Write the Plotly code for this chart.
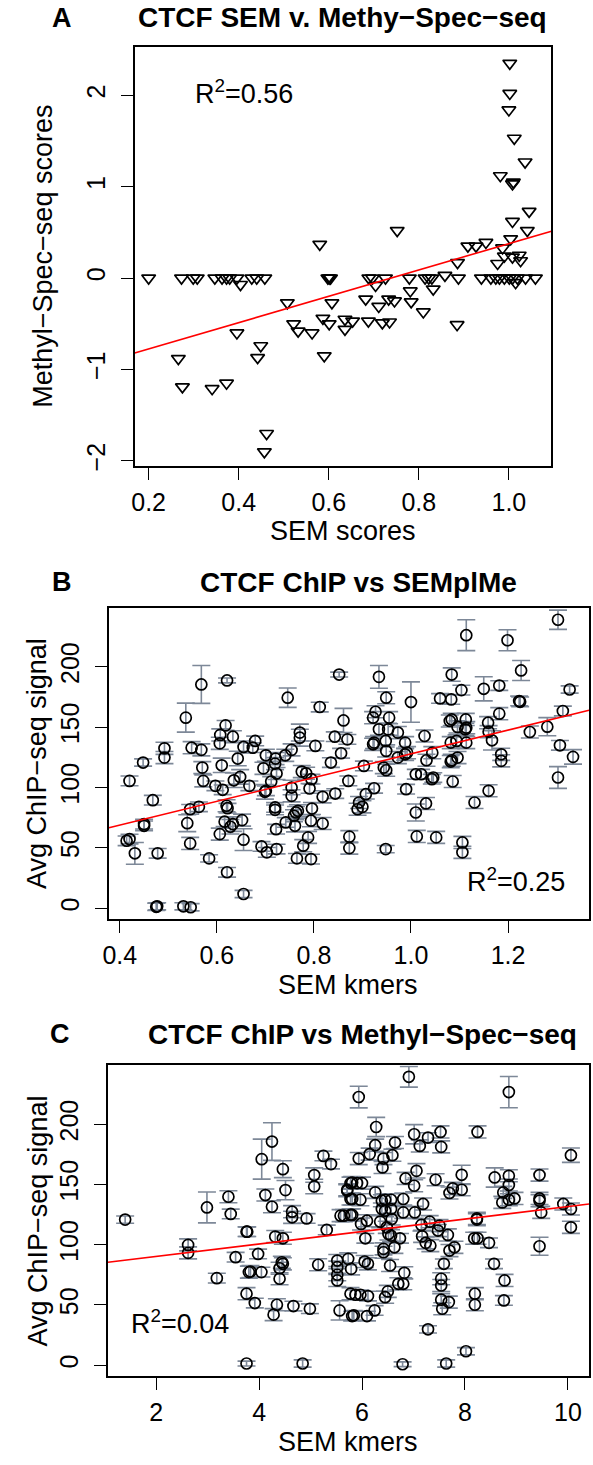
import plotly.graph_objects as go

# ---------------- Panel A data ----------------
a_x = [0.200, 0.273, 0.299, 0.308, 0.347, 0.363, 0.373, 0.380, 0.396, 0.429, 0.440, 0.458,
       0.598, 0.601, 0.604, 0.689, 0.697, 0.726, 0.779, 0.814, 0.822, 0.829, 0.888,
       0.939, 0.960, 0.971, 0.979, 0.990, 1.001, 1.008, 1.019, 1.037, 1.059,
       0.404, 0.704, 0.832, 1.015, 0.858,
       0.580, 0.752,
       1.002, 1.002, 1.000, 1.012, 1.036, 0.981, 1.008, 1.010, 1.045, 1.008, 1.041,
       0.909, 0.927, 0.949, 1.004, 0.986, 0.886, 0.975, 0.990, 1.008, 1.023, 1.026,
       0.508, 0.607, 0.522, 0.532, 0.563, 0.587, 0.601, 0.636, 0.653, 0.636, 0.590,
       0.396, 0.266, 0.275, 0.341, 0.373, 0.449, 0.442, 0.462, 0.457,
       0.682, 0.711, 0.733, 0.746, 0.781, 0.783, 0.810, 0.688, 0.719, 0.735, 0.885]
a_y = [0.0, 0.0, 0.0, 0.0, 0.0, 0.0, 0.0, 0.0, 0.0, 0.0, 0.0, 0.0,
       0.0, 0.0, 0.0, 0.0, 0.0, 0.0, 0.0, 0.0, 0.0, 0.0, 0.0,
       0.0, 0.0, 0.0, 0.0, 0.0, 0.0, 0.0, 0.0, 0.0, 0.0,
       -0.07, -0.08, -0.12, -0.05, 0.03,
       0.37, 0.52,
       2.35, 2.02, 1.84, 1.53, 1.27, 1.12, 1.03, 1.05, 0.73, 0.62, 0.52,
       0.35, 0.35, 0.39, 0.43, 0.33, 0.17, 0.16, 0.24, 0.23, 0.25, 0.19,
       -0.27, -0.27, -0.50, -0.58, -0.60, -0.44, -0.50, -0.45, -0.47, -0.56, -0.85,
       -0.60, -0.88, -1.19, -1.21, -1.15, -0.74, -0.87, -1.70, -1.90,
       -0.23, -0.31, -0.23, -0.25, -0.14, -0.26, -0.37, -0.47, -0.49, -0.48, -0.51]
a_fit = [-1.063, 1.44]          # intercept, slope
a_r2 = "0.56"

# ---------------- Panel B data ----------------
b_x = [0.568, 0.621, 0.536, 0.746, 0.812, 0.852, 0.861, 0.843, 0.869, 0.856, 0.835, 0.871,
       0.492, 0.492, 0.448, 0.420, 0.548, 0.568, 0.618, 0.607, 0.633, 0.606, 0.655, 0.674,
       0.679, 0.643, 0.610, 0.570, 0.572, 0.635, 0.648, 0.597, 0.612, 0.667, 0.701, 0.721,
       0.720, 0.723, 0.741, 0.754, 0.696, 0.712, 0.701, 0.754, 0.771, 0.771, 0.803, 0.775,
       0.784, 0.795, 0.791,
       0.468, 0.450, 0.450, 0.414, 0.420, 0.431, 0.478, 0.477, 0.475, 0.531, 0.546, 0.539,
       0.545, 0.563, 0.545, 0.584, 0.606, 0.621, 0.616, 0.620, 0.622, 0.628, 0.633, 0.652,
       0.655, 0.655, 0.692, 0.703, 0.723, 0.699, 0.720, 0.720, 0.722, 0.742, 0.754, 0.759,
       0.763, 0.767, 0.761, 0.765, 0.778, 0.788, 0.796, 0.794, 0.794, 0.818, 0.818, 0.844,
       0.873, 0.873,
       1.303, 1.114, 1.199, 1.227, 0.934, 1.084, 1.104, 1.150, 1.182, 1.327, 1.223, 1.225,
       0.949, 1.000, 1.060, 1.083, 0.927, 0.922, 0.955, 0.934, 0.953, 0.973, 0.924, 0.922,
       0.948, 0.949, 0.988, 0.988, 0.992, 0.973, 1.028, 1.044, 1.032, 0.944, 0.949, 0.903,
       1.084, 1.080, 1.096, 1.113, 1.114, 1.112, 1.094, 1.114, 1.082, 1.096, 1.084, 1.082,
       1.086, 1.159, 1.160, 1.167, 1.182, 1.186, 1.186, 1.245, 1.281, 1.313, 1.307, 1.334,
       1.303, 1.160, 1.010, 1.021, 1.043, 1.046, 0.990, 0.924, 0.907,
       0.893, 0.890, 0.900, 1.010, 1.031, 1.131, 0.948, 1.012, 1.052, 1.106, 1.106]
b_y = [185.4, 188.7, 157.9, 174.4, 166.7, 193.6, 155.6, 142.1, 139.9, 128.4, 120.7, 105.5,
       132.5, 124.8, 120.7, 105.5, 133.0, 131.2, 151.5, 143.6, 142.1, 136.6, 133.6, 133.0,
       138.6, 124.0, 118.4, 116.5, 105.5, 106.0, 108.8, 101.4, 98.1, 101.4, 126.7, 124.0,
       119.8, 111.6, 126.7, 131.2, 115.9, 105.0, 97.3, 100.0, 145.5, 141.3, 134.5, 113.2,
       111.8, 106.9, 99.2,
       89.5, 69.7, 68.3, 55.9, 57.3, 45.5, 45.5, 1.6, 1.2, 1.6, 0.8, 70.5,
       82.0, 84.0, 53.7, 41.3, 61.4, 29.8, 71.7, 84.9, 82.9, 67.5, 69.7, 73.0,
       56.8, 11.8, 51.2, 46.3, 49.0, 96.4, 83.5, 81.5, 65.5, 71.1, 93.1, 76.6,
       79.3, 80.7, 68.3, 41.3, 51.8, 58.7, 82.6, 72.5, 40.7, 92.3, 70.2, 95.0,
       59.3, 49.8,
       239.0, 226.2, 222.0, 197.0, 191.7, 193.6, 180.7, 181.8, 184.5, 181.2, 171.7, 171.0,
       174.4, 170.8, 173.8, 173.0, 162.8, 157.9, 157.9, 148.2, 148.2, 145.5, 137.2, 135.8,
       138.6, 130.3, 137.2, 127.5, 128.9, 124.8, 142.7, 128.9, 122.6, 116.5, 114.3, 117.9,
       156.4, 155.1, 150.2, 156.4, 149.6, 148.2, 138.6, 137.2, 137.2, 124.8, 122.6, 121.5,
       105.0, 153.7, 146.3, 139.1, 161.2, 127.5, 122.1, 146.0, 150.4, 163.4, 135.0, 125.4,
       108.3, 97.3, 111.0, 111.0, 106.9, 108.3, 98.6, 99.4, 94.5,
       87.6, 82.0, 84.0, 79.3, 86.8, 87.6, 49.0, 59.5, 58.7, 54.5, 46.3]
b_err = [15.7, 2, 12, 8, 4, 2, 10, 4, 4, 4, 4, 4,
         5, 5, 3, 4, 5, 5, 4, 5, 5, 5, 5, 4,
         4, 6, 6, 5, 5, 6, 6, 4, 4, 4, 5, 5,
         5, 5, 5, 5, 5, 4, 4, 6, 7, 7, 4, 5,
         5, 4, 4,
         4, 4, 4, 4, 4, 9, 4, 3, 3, 3, 3, 7,
         4, 4, 5, 3, 5, 4, 4, 5, 4, 6, 6, 5,
         9, 3, 4, 4, 4, 6, 4, 4, 4, 4, 5, 5,
         5, 5, 5, 4, 5, 5, 5, 5, 4, 5, 5, 4,
         5, 5,
         8, 12.8, 8.7, 8.3, 9.4, 5.5, 4, 10, 4, 3, 4, 4,
         5, 16.7, 4, 4, 5, 5, 5, 5, 5, 5, 5, 5,
         5, 5, 5, 5, 5, 5, 5, 5, 5, 5, 5, 4,
         5, 5, 5, 5, 5, 5, 5, 5, 5, 5, 5, 5,
         5, 5, 5, 8, 5, 5, 5, 5, 7.5, 4, 4, 6,
         9, 5, 4, 4, 4, 4, 4, 4, 4,
         5, 5, 5, 7, 5, 5, 3, 5, 5, 5, 5]
b_fit = [29.6, 98.3]
b_r2 = "0.25"

# ---------------- Panel C data ----------------
c_x = [1.398, 2.621, 2.621, 2.987, 3.179, 3.404, 3.449, 3.544, 3.756, 3.770, 3.756, 3.801,
       3.833, 3.756, 3.917, 4.045, 4.051, 4.250, 4.122, 4.250, 3.981, 4.314, 4.462, 4.462,
       4.442, 4.398, 4.398, 4.346, 4.282, 4.667, 4.987, 4.846, 4.462, 4.513, 4.641, 4.641,
       4.923, 5.071, 5.071, 5.314, 5.148, 5.250, 5.397, 5.564, 5.583, 5.648, 5.776, 5.712,
       5.776, 5.776, 5.519, 5.519, 5.519, 5.519, 5.731, 5.776, 5.808,
       6.910, 8.852, 5.936, 6.275, 7.013, 7.122, 7.282, 7.525, 7.538, 8.244, 10.058, 6.256,
       6.148, 5.936, 6.417, 6.590, 6.641, 6.398, 7.058, 6.846, 7.013, 7.429, 7.936, 7.936,
       7.763, 7.699, 8.577, 8.852, 8.852, 8.744, 9.448, 9.448, 9.448, 8.725, 8.852, 8.962,
       9.910, 10.058, 9.481, 10.058, 9.448, 5.712, 5.808, 5.904, 6.000, 5.968, 5.808, 6.256,
       5.808, 6.385, 6.449, 6.564, 6.801, 6.385, 6.564, 6.449, 6.577, 6.801, 7.025, 7.186,
       5.981, 6.096, 6.352, 6.481, 6.513, 6.564, 6.064, 6.737, 6.629, 6.417, 6.417, 7.154,
       7.314, 7.475, 7.506, 7.667, 7.167, 7.237, 7.327, 7.699, 7.795, 8.231, 8.231, 8.179,
       8.244, 8.467, 8.564, 7.590, 8.769, 8.756, 7.538, 7.538, 7.538, 7.558, 7.686, 8.192,
       8.192, 7.282, 8.019, 7.635, 6.788, 5.788, 6.051, 6.115, 6.545, 6.821, 6.705, 6.801,
       6.500, 6.449, 5.872, 5.968, 6.115, 5.840, 6.096, 6.244]
c_y = [120.9, 99.9, 93.3, 131.0, 72.3, 139.9, 125.6, 89.7, 110.9, 110.9, 1.4, 77.3,
       77.8, 59.4, 51.6, 77.3, 171.1, 185.7, 141.3, 131.6, 92.4, 106.8, 105.4, 84.2,
       85.5, 80.5, 71.8, 50.2, 42.0, 49.1, 46.9, 1.4, 162.8, 145.4, 127.5, 122.8,
       121.9, 157.9, 148.4, 112.3, 83.4, 173.8, 167.0, 45.5, 124.2, 124.2, 124.8, 145.7,
       151.2, 138.0, 86.9, 81.4, 75.1, 70.4, 88.3, 59.4, 40.8,
       239.5, 226.8, 222.7, 197.8, 191.8, 182.1, 189.0, 193.7, 181.3, 193.7, 174.4, 182.7,
       175.3, 171.6, 171.6, 174.4, 184.9, 164.2, 161.4, 155.1, 149.0, 154.0, 158.1, 145.7,
       146.8, 143.0, 155.9, 157.3, 149.6, 143.5, 157.9, 138.5, 136.6, 135.2, 137.4, 138.5,
       133.9, 129.7, 126.9, 114.5, 98.8, 144.9, 151.7, 151.2, 151.2, 137.4, 138.0, 143.5,
       124.8, 136.6, 137.4, 137.4, 138.0, 129.7, 129.7, 128.3, 121.4, 126.9, 126.9, 133.9,
       117.3, 120.0, 119.2, 114.5, 109.0, 107.6, 105.4, 105.4, 97.9, 96.6, 93.8, 116.5,
       119.2, 111.8, 115.9, 108.2, 107.0, 101.6, 99.3, 95.2, 97.9, 121.9, 120.9, 105.4,
       105.4, 101.6, 84.2, 84.2, 70.4, 53.8, 71.8, 66.2, 54.4, 46.9, 52.4, 59.4,
       50.2, 29.8, 11.6, 1.4, 0.8, 80.0, 86.1, 84.2, 82.8, 76.7, 67.6, 67.6,
       61.3, 56.5, 58.5, 58.5, 57.4, 41.4, 40.8, 45.5]
c_err = [3, 5, 5, 12.8, 4, 5, 4, 4, 4, 4, 2, 5,
         5, 5, 4, 4, 16.6, 15.6, 5, 5, 4, 5, 5, 5,
         5, 5, 5, 5, 5, 4, 4, 3, 7, 8, 5, 5,
         4, 6, 6, 4, 5, 4, 4, 8, 5, 5, 5, 5,
         5, 5, 5, 5, 5, 5, 5, 5, 4,
         8.6, 13, 9, 8, 8, 5, 4, 5, 5, 5, 6, 5,
         5, 5, 5, 5, 5, 5, 6, 5, 5, 5, 8, 5,
         5, 5, 8, 5, 5, 5, 5, 5, 5, 5, 5, 5,
         5, 5, 5, 5, 7.5, 5, 5, 5, 5, 5, 5, 5,
         5, 5, 5, 5, 5, 5, 5, 5, 5, 5, 5, 5,
         5, 5, 5, 5, 5, 5, 4, 4, 5, 5, 5, 5,
         5, 5, 5, 5, 5, 5, 5, 5, 5, 5, 5, 5,
         5, 4, 4, 4, 5, 4, 5, 5, 5, 5, 5, 5,
         5, 3, 3, 3, 2, 5, 5, 5, 5, 5, 5, 5,
         5, 5, 4, 4, 4, 4, 4, 4]
c_fit = [80.0, 5.17]
c_r2 = "0.04"

# ---------------- Figure ----------------
W, H = 593, 1465
FONT = "Liberation Sans, Arial, Helvetica, sans-serif"
ERRC = "#7d8898"
TICK_SIZE = 25
LAB_SIZE = 27
MAIN_SIZE = 28

def px(x):
    return x / W

def py(y):
    return 1 - y / H

a_xr, a_yr = [0.169, 1.0945], [-2.06, 2.53]
b_xr, b_yr = [0.3776, 1.367], [-8.8, 248.8]
c_xr, c_yr = [1.064, 10.41], [-9.2, 249.0]

fig = go.Figure()

# Panel A
fig.add_trace(go.Scatter(x=a_x, y=a_y, mode="markers", xaxis="x", yaxis="y",
                         marker=dict(symbol="triangle-down-open", size=12, color="black",
                                     line=dict(width=1.7)), showlegend=False))
fig.add_trace(go.Scatter(x=a_xr, y=[a_fit[0] + a_fit[1] * v for v in a_xr], mode="lines",
                         xaxis="x", yaxis="y", line=dict(color="#ff0000", width=1.6),
                         showlegend=False))

# Panel B
fig.add_trace(go.Scatter(x=b_x, y=b_y, mode="markers", xaxis="x2", yaxis="y2",
                         error_y=dict(type="data", array=b_err, color=ERRC, thickness=1.6, width=9),
                         marker=dict(symbol="circle-open", size=11, color="black",
                                     line=dict(width=1.7)), showlegend=False))
fig.add_trace(go.Scatter(x=b_xr, y=[b_fit[0] + b_fit[1] * v for v in b_xr], mode="lines",
                         xaxis="x2", yaxis="y2", line=dict(color="#ff0000", width=1.6),
                         showlegend=False))

# Panel C
fig.add_trace(go.Scatter(x=c_x, y=c_y, mode="markers", xaxis="x3", yaxis="y3",
                         error_y=dict(type="data", array=c_err, color=ERRC, thickness=1.6, width=9),
                         marker=dict(symbol="circle-open", size=11, color="black",
                                     line=dict(width=1.7)), showlegend=False))
fig.add_trace(go.Scatter(x=c_xr, y=[c_fit[0] + c_fit[1] * v for v in c_xr], mode="lines",
                         xaxis="x3", yaxis="y3", line=dict(color="#ff0000", width=1.6),
                         showlegend=False))

axcommon = dict(showline=True, mirror=True, linecolor="black", linewidth=1.6,
                ticks="outside", ticklen=12, tickwidth=1.4, tickcolor="black",
                showgrid=False, zeroline=False, ticklabeloverflow="allow",
                tickfont=dict(family=FONT, size=TICK_SIZE, color="black"))
xcommon = dict(axcommon, ticklabelstandoff=1)
ycommon = dict(axcommon, ticklabelstandoff=6, tickangle=-90)

fig.update_layout(
    width=W, height=H, margin=dict(l=0, r=0, t=0, b=0),
    paper_bgcolor="white", plot_bgcolor="white",
    xaxis=dict(domain=[px(130), px(551)], range=a_xr, anchor="y",
               tickvals=[0.2, 0.4, 0.6, 0.8, 1.0], ticktext=["0.2", "0.4", "0.6", "0.8", "1.0"], **xcommon),
    yaxis=dict(domain=[py(468), py(47)], range=a_yr, anchor="x",
               tickvals=[-2, -1, 0, 1, 2], **ycommon),
    xaxis2=dict(domain=[px(104), px(589)], range=b_xr, anchor="y2",
                tickvals=[0.4, 0.6, 0.8, 1.0, 1.2], ticktext=["0.4", "0.6", "0.8", "1.0", "1.2"], **xcommon),
    yaxis2=dict(domain=[py(922), py(610)], range=b_yr, anchor="x2",
                tickvals=[0, 50, 100, 150, 200], **ycommon),
    xaxis3=dict(domain=[px(103), px(589)], range=c_xr, anchor="y3",
                tickvals=[2, 4, 6, 8, 10], **xcommon),
    yaxis3=dict(domain=[py(1381), py(1069)], range=c_yr, anchor="x3",
                tickvals=[0, 50, 100, 150, 200], **ycommon),
)

def ann(text, x, y, size, bold=False, angle=0):
    t = "<b>%s</b>" % text if bold else text
    fig.add_annotation(text=t, x=px(x), y=py(y), xref="paper", yref="paper",
                       showarrow=False, xanchor="center", yanchor="middle",
                       textangle=angle, font=dict(family=FONT, size=size, color="black"))

# Titles and panel letters
ann("CTCF SEM v. Methy\u2212Spec\u2212seq", 340, 18, MAIN_SIZE, bold=True)
ann("CTCF ChIP vs SEMplMe", 356, 584, MAIN_SIZE, bold=True)
ann("CTCF ChIP vs Methyl\u2212Spec\u2212seq", 360, 1038, MAIN_SIZE, bold=True)
ann("A", 57, 18, 27, bold=True)
ann("B", 57, 584, 27, bold=True)
ann("C", 55, 1038, 27, bold=True)

# Axis titles
ann("SEM scores", 340, 533, LAB_SIZE)
ann("Methyl\u2212Spec\u2212seq scores", 38, 257, LAB_SIZE, angle=-90)
ann("SEM kmers", 346, 988, LAB_SIZE)
ann("Avg ChIP\u2212seq signal", 32, 766, LAB_SIZE, angle=-90)
ann("SEM kmers", 346, 1447, LAB_SIZE)
ann("Avg ChIP\u2212seq signal", 32, 1225, LAB_SIZE, angle=-90)

# R^2 labels
ann("R<sup>2</sup>=" + a_r2, 240, 92, LAB_SIZE)
ann("R<sup>2</sup>=" + b_r2, 515, 883, LAB_SIZE)
ann("R<sup>2</sup>=" + c_r2, 176, 1327, LAB_SIZE)

fig.write_html("out.html", config={"displayModeBar": False},
               post_script=["document.body.style.margin='0px';document.body.style.padding='0px';"])
